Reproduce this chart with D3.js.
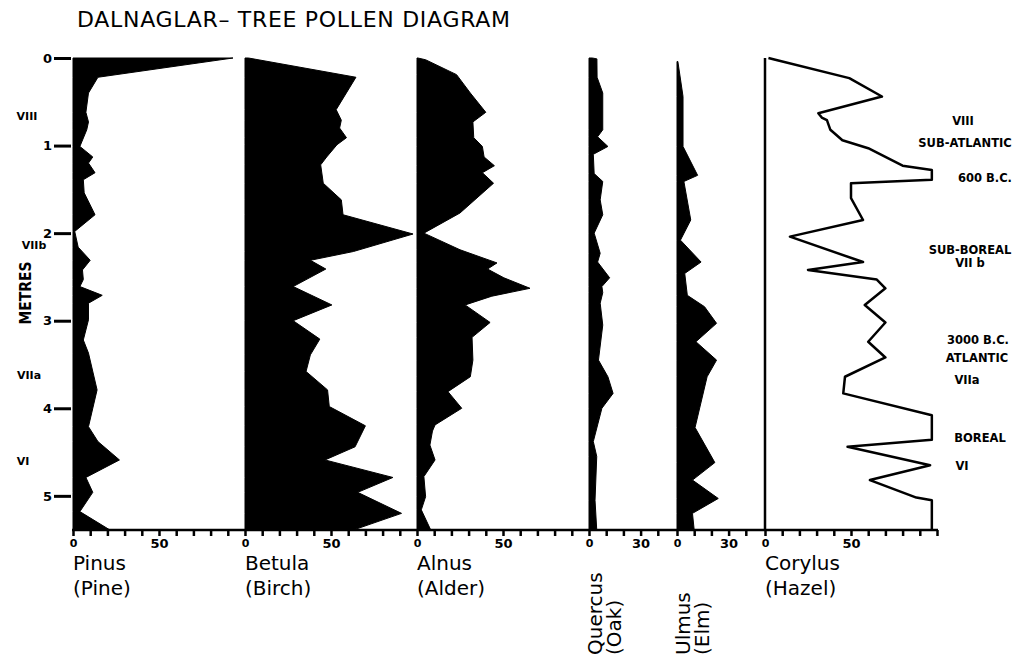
<!DOCTYPE html>
<html>
<head>
<meta charset="utf-8">
<script src="https://cdn.jsdelivr.net/npm/d3@7"></script>
<style>
body{margin:0;background:#fff;}
svg{display:block;font-family:"DejaVu Sans",sans-serif;}
</style>
</head>
<body>
<svg id="diag" width="1022" height="660"></svg>
<script>
const pinus = [[0,93],[0.22,14.5],[0.40,9],[0.62,7.5],[0.73,9],[0.82,8],[1.01,4],[1.13,11.5],[1.20,9],[1.31,12.8],[1.39,6],[1.54,6.5],[1.79,12.8],[1.98,1],[2.16,3],[2.31,10],[2.42,5.5],[2.53,6],[2.61,4],[2.71,17],[2.80,9],[2.99,9],[3.22,6],[3.37,9],[3.79,14],[4.21,9],[4.38,14.5],[4.59,27],[4.79,7.5],[4.96,11.5],[5.18,4],[5.39,21.5]];
const betula = [[0,2],[0.22,64.5],[0.59,53],[0.71,56],[0.80,55],[0.91,59],[0.99,53.5],[1.13,47.5],[1.22,44],[1.43,45.5],[1.62,56],[1.79,57],[2.01,97.7],[2.21,63],[2.31,38],[2.41,47],[2.61,28],[2.82,50.5],[3.0,28],[3.21,43.5],[3.39,38],[3.58,35.5],[3.79,48],[3.98,49],[4.20,70],[4.44,64],[4.59,46.5],[4.79,86],[4.96,65.5],[5.20,91],[5.39,63]];
const alnus = [[0,0.5],[0.02,5],[0.19,23],[0.40,31],[0.62,40],[0.73,32.5],[0.91,33],[1.01,38],[1.13,39],[1.23,45],[1.31,38],[1.43,44.5],[1.77,25],[2.0,4],[2.19,25],[2.34,46.5],[2.41,41],[2.51,50.5],[2.63,65.7],[2.72,43.5],[2.82,28],[3.02,42.5],[3.19,32],[3.45,32.5],[3.64,31],[3.81,18],[4.0,26],[4.19,10.5],[4.26,9],[4.42,7.5],[4.59,10.5],[4.78,4],[5.01,5],[5.16,2.5],[5.39,8]];
const quercus = [[0,2],[0.01,4.6],[0.22,4.7],[0.40,8],[0.82,8],[0.90,5],[1.01,11],[1.10,2.5],[1.32,3],[1.41,8],[1.62,6.5],[1.79,8],[2.0,3],[2.23,6.5],[2.33,5],[2.51,12],[2.61,7.5],[2.68,8],[2.80,6.5],[3.05,8],[3.45,5.5],[3.64,11],[3.83,14],[4.0,7.5],[4.38,2.5],[4.55,4.5],[5.05,3.5],[5.39,4.5]];
const ulmus = [[0.04,0.5],[0.44,3.5],[1.01,3.5],[1.34,12],[1.41,4],[1.85,8],[2.08,2],[2.33,14],[2.46,4.5],[2.71,6],[2.84,16],[3.03,23],[3.24,11],[3.45,23],[3.64,17.5],[4.22,10.5],[4.62,22],[4.82,9],[5.03,24],[5.20,9],[5.39,10]];
const corylus = [[0,2],[0.02,6],[0.23,49],[0.44,68],[0.63,31],[0.68,33],[0.71,36],[0.82,38],[0.94,45],[1.03,60],[1.23,80],[1.28,97],[1.39,97],[1.43,50],[1.60,50],[1.85,57],[2.04,14.5],[2.33,57],[2.42,25],[2.53,65],[2.63,70],[2.82,58],[3.02,70],[3.24,60],[3.42,70],[3.64,46.5],[3.83,45.5],[4.08,97],[4.36,97],[4.44,48],[4.65,96],[4.82,61],[5.02,88],[5.05,97],[5.39,97]];

const taxons = ["Pinus","Betula","Alnus","Quercus","Ulmus","Corylus"];
const nomsCommuns = ["(Pine)","(Birch)","(Alder)","(Oak)","(Elm)","(Hazel)"];
const graduationsProf = [0,1,2,3,4,5];
const profMax = 5.39;
// graduations du bas (en %) et celles qui portent un chiffre
const graduationsPct = [d3.range(0,100,10),d3.range(0,100,10),d3.range(0,100,10),d3.range(0,50,10),d3.range(0,50,10),d3.range(0,101,10)];
const chiffresPct = [[0,50],[0,50],[0,50],[0,30],[0,30],[0,50]];
// zones polliniques (gauche) : nom, profondeur
const zonesGauche = ["VIII","VIIb","VIIa","VI"];
const zonesGaucheProf = [0.66,2.13,3.62,4.6];
// chronologie (droite) : texte, profondeur
const zonesDroite = ["VIII","SUB-ATLANTIC","600 B.C.","SUB-BOREAL","VII b","3000 B.C.","ATLANTIC","VIIa","BOREAL","VI"];
const zonesDroiteProf = [0.71,0.97,1.37,2.19,2.33,3.22,3.42,3.67,4.33,4.65];

// mise en page
const origines = [73,245,417,589,677,765];   // x du 0 de chaque courbe
const pxParPct = 1.72;
const zonesGaucheX = [27,34,29,23];
const zonesDroiteX = [963,965,985,970,970,978,977,967,980,962];

const svg = d3.select("#diag");
const y = d3.scaleLinear().domain([0,profMax]).range([58,530]);

/*
 echelleTaxon(i)
 i : indice de la courbe
 renvoie l'echelle x (pourcentage -> pixels) de la courbe i
*/
function echelleTaxon(i)
{
   return d3.scaleLinear()
      .domain([0,100])
      .range([origines[i],origines[i]+100*pxParPct]);
}

// Titre
svg.append("text")
   .attr("x",77)
   .attr("y",27)
   .attr("font-size",22)
   .attr("textLength",433)
   .attr("lengthAdjust","spacing")
   .text("DALNAGLAR\u2013 TREE POLLEN DIAGRAM");

// Courbes pleines
const series = [pinus,betula,alnus,quercus,ulmus];
series.forEach(function(serie,i)
{
   let x = echelleTaxon(i);
   let aire = d3.area()
      .y(d => y(d[0]))
      .x0(x(0))
      .x1(d => x(d[1]));
   svg.append("path")
      .datum(serie)
      .attr("d",aire)
      .attr("fill","#000")
      .attr("stroke","#000")
      .attr("stroke-width",1);
});

// Corylus : courbe en trait
const xCor = echelleTaxon(5);
svg.append("line")
   .attr("x1",xCor(0)).attr("x2",xCor(0))
   .attr("y1",y(0)).attr("y2",y(profMax))
   .attr("stroke","#000")
   .attr("stroke-width",2.5);
svg.append("path")
   .datum(corylus)
   .attr("d",d3.line().x(d => xCor(d[1])).y(d => y(d[0])))
   .attr("fill","none")
   .attr("stroke","#000")
   .attr("stroke-width",2.5)
   .attr("stroke-linejoin","round");

// Axe des profondeurs
const axeProf = svg.append("g")
   .attr("transform","translate(71,0)")
   .call(d3.axisLeft(y).tickValues(graduationsProf).tickSize(17).tickPadding(2).tickFormat(d3.format("d")));
axeProf.select(".domain").remove();
axeProf.selectAll("line").attr("stroke-width",3);
axeProf.selectAll("text")
   .attr("font-size",13)
   .attr("font-weight","bold")
   .attr("font-family","DejaVu Sans");

svg.append("text")
   .attr("transform","translate(31,293) rotate(-90)")
   .attr("text-anchor","middle")
   .attr("font-size",15)
   .attr("font-weight","bold")
   .attr("textLength",63)
   .attr("lengthAdjust","spacingAndGlyphs")
   .text("METRES");

zonesGauche.forEach(function(z,i)
{
   svg.append("text")
      .attr("x",zonesGaucheX[i])
      .attr("y",y(zonesGaucheProf[i])+4)
      .attr("text-anchor","middle")
      .attr("font-size",11)
      .attr("font-weight","bold")
      .text(z);
});

// Axe du bas : une ligne continue + graduations de chaque courbe
svg.append("line")
   .attr("x1",origines[0]-1).attr("x2",xCor(100)+1)
   .attr("y1",y(profMax)).attr("y2",y(profMax))
   .attr("stroke","#000")
   .attr("stroke-width",2.5);

taxons.forEach(function(t,i)
{
   let x = echelleTaxon(i);
   let g = svg.append("g")
      .attr("transform","translate(0,"+y(profMax)+")")
      .call(d3.axisBottom(x)
         .tickValues(graduationsPct[i])
         .tickSize(6)
         .tickPadding(3)
         .tickFormat(d => chiffresPct[i].includes(d) ? d : ""));
   g.select(".domain").remove();
   g.selectAll("line").attr("stroke-width",2.5);
   g.selectAll("text")
      .attr("font-size",d => d == 0 ? 11 : 13)
      .attr("font-weight","bold")
      .attr("font-family","DejaVu Sans");

   if(i == 3 || i == 4)// Quercus et Ulmus ecrits verticalement
   {
      svg.append("text")
         .attr("transform","translate("+(x(0)+13)+",655) rotate(-90)")
         .attr("font-size",20)
         .text(t);
      svg.append("text")
         .attr("transform","translate("+(x(0)+32)+",655) rotate(-90)")
         .attr("font-size",20)
         .text(nomsCommuns[i]);
   }
   else
   {
      svg.append("text")
         .attr("x",x(0))
         .attr("y",570)
         .attr("font-size",20)
         .text(t);
      svg.append("text")
         .attr("x",x(0))
         .attr("y",595)
         .attr("font-size",20)
         .text(nomsCommuns[i]);
   }
});

// Chronologie a droite
zonesDroite.forEach(function(z,i)
{
   svg.append("text")
      .attr("x",zonesDroiteX[i])
      .attr("y",y(zonesDroiteProf[i])+4.5)
      .attr("text-anchor","middle")
      .attr("font-size",11.5)
      .attr("font-weight","bold")
      .text(z);
});
</script>
</body>
</html>
